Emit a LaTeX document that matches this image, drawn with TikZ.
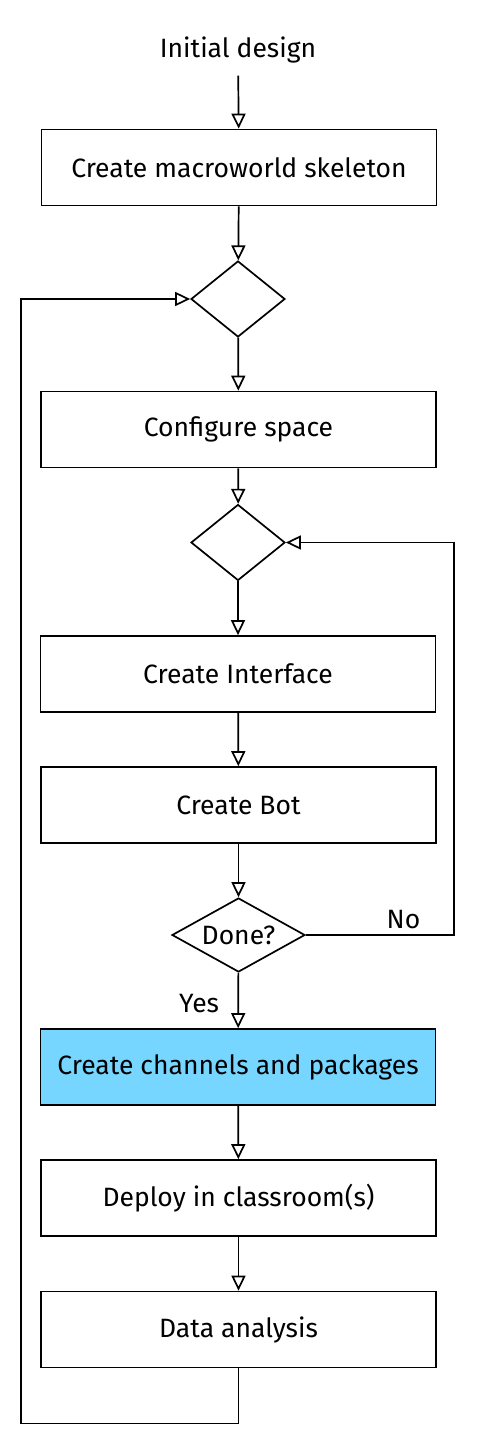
\documentclass[tikz,border=0pt]{standalone}
\usepackage{fontspec}
\setmainfont{Fira Sans}
\usetikzlibrary{arrows.meta,shapes.geometric}
\definecolor{skyblue}{HTML}{76D6FF}
\begin{document}
\begin{tikzpicture}[x=1pt,y=-1pt,
  box/.style={draw, line width=1.7pt, minimum width=395pt, minimum height=76pt, font=\fontsize{26.5}{31}\selectfont, inner sep=0pt},
  dia/.style={draw, diamond, line width=1.7pt, minimum width=94pt, minimum height=76pt, inner sep=0pt, aspect=1.3, font=\fontsize{26.5}{31}\selectfont},
  lbl/.style={font=\fontsize{26.5}{31}\selectfont},
  arr/.style={line width=1.7pt, -{Triangle[open,length=15pt,width=14pt,fill=white]}}]
\useasboundingbox (0,0) rectangle (477,1447);
\node[lbl] (init) at (238,50) {Initial design};
\node[box] (b1) at (239,167.5) {Create macroworld skeleton};
\node[dia] (d1) at (238,299) {};
\node[box] (b2) at (238.5,429.5) {Configure space};
\node[dia] (d2) at (238,542.5) {};
\node[box] (b3) at (238,674) {Create Interface};
\node[box] (b4) at (238.5,805) {Create Bot};
\node[dia, minimum width=133pt, minimum height=74pt, aspect=1.8] (d3) at (238.5,935) {Done?};
\node[box, fill=skyblue] (b5) at (238,1067) {Create channels and packages};
\node[box] (b6) at (238.5,1198) {Deploy in classroom(s)};
\node[box] (b7) at (238.5,1329.5) {Data analysis};
\draw[arr, shorten <=9pt] (init) -- (b1);
\draw[arr] (b1) -- (d1);
\draw[arr] (d1) -- (b2);
\draw[arr] (b2) -- (d2);
\draw[arr] (d2) -- (b3);
\draw[arr] (b3) -- (b4);
\draw[arr] (b4) -- (d3);
\draw[arr] (d3) -- node[lbl, left=15pt, pos=0.55] {Yes} (b5);
\draw[arr] (b5) -- (b6);
\draw[arr] (b6) -- (b7);
\draw[arr] (d3.east) -- node[lbl, above, yshift=2pt, pos=0.66] {No} ++(148,0) |- (d2.east);
\draw[arr] (b7.south) -- ++(0,55) -| ([xshift=-169pt]d1.west) -- (d1.west);
\end{tikzpicture}
\end{document}
